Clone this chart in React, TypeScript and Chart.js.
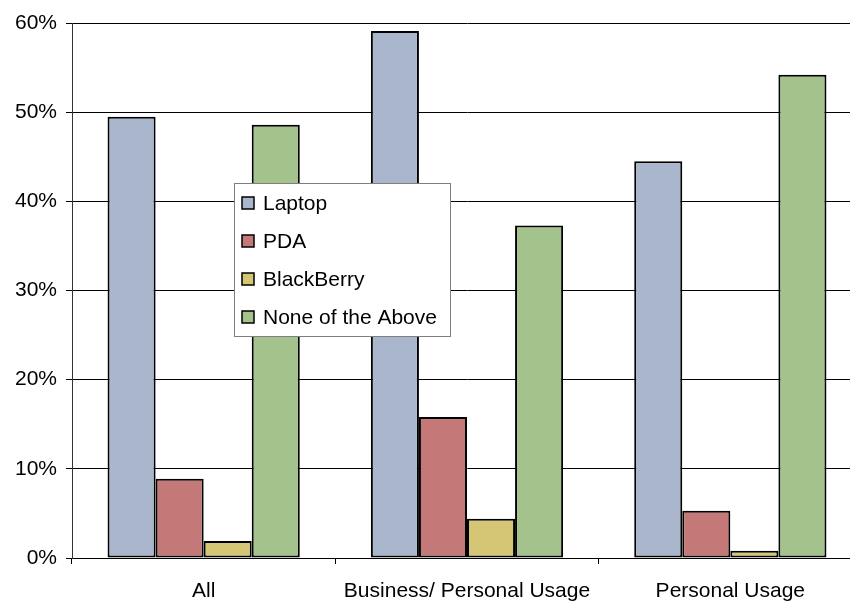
import React, { useEffect, useRef } from "react";
import { Chart, registerables } from "chart.js";

Chart.register(...registerables);

const categories = ["All", "Business/ Personal Usage", "Personal Usage"];
const seriesNames = ["Laptop", "PDA", "BlackBerry", "None of the Above"];
const laptop = [49.5, 59.1, 44.5];
const pda = [8.9, 15.8, 5.3];
const blackberry = [1.9, 4.4, 0.8];
const noneOfTheAbove = [48.6, 37.3, 54.2];
const yTicks = [0, 10, 20, 30, 40, 50, 60];

const colors = ["#A9B6CB", "#C47878", "#D4C674", "#A3C28C"];
const FONT = "'Liberation Sans', Arial, sans-serif";

const CANVAS_W = 880;
const CANVAS_H = 602;

// Legend box drawn inside the plot area, on top of bars and grid.
const insideLegend = {
  id: "insideLegend",
  afterDraw(chart: any) {
    const ctx = chart.ctx;
    const x = 234, y = 183, w = 216, h = 153;
    ctx.save();
    ctx.fillStyle = "#fff";
    ctx.fillRect(x, y, w, h);
    ctx.strokeStyle = "#7f7f7f";
    ctx.lineWidth = 1;
    ctx.strokeRect(x + 0.5, y + 0.5, w, h);
    ctx.font = `21px ${FONT}`;
    ctx.textBaseline = "middle";
    ctx.textAlign = "left";
    chart.data.datasets.forEach((ds: any, i: number) => {
      const cy = 203 + i * 38;
      ctx.fillStyle = ds.backgroundColor;
      ctx.fillRect(242, cy - 6, 12, 12);
      ctx.strokeStyle = "#000";
      ctx.lineWidth = 1.5;
      ctx.strokeRect(242, cy - 6, 12, 12);
      ctx.fillStyle = "#000";
      ctx.fillText(ds.label, 263, cy + 1);
    });
    ctx.restore();
  },
};

export default function App() {
  const ref = useRef<HTMLCanvasElement | null>(null);

  useEffect(() => {
    if (!ref.current) return;
    const values = [laptop, pda, blackberry, noneOfTheAbove];
    const chart = new Chart(ref.current, {
      type: "bar",
      data: {
        labels: categories,
        datasets: seriesNames.map((name, i) => ({
          label: name,
          data: values[i],
          backgroundColor: colors[i],
          borderColor: "#000",
          borderWidth: 2,
          borderSkipped: false,
          barPercentage: 1,
          categoryPercentage: 0.73,
        })),
      },
      options: {
        animation: false,
        responsive: false,
        devicePixelRatio: 1,
        layout: { padding: { top: 23, right: CANVAS_W - 862, left: 0, bottom: 0 } },
        plugins: {
          legend: { display: false },
          tooltip: { enabled: false },
        },
        scales: {
          x: {
            grid: {
              offset: true,
              drawOnChartArea: false,
              drawTicks: true,
              tickLength: 6,
              color: "#000",
            },
            border: { display: true, color: "#000", width: 1 },
            ticks: {
              color: "#000",
              font: { family: FONT, size: 21 },
              padding: 15,
              maxRotation: 0,
              autoSkip: false,
            },
            afterFit(scale: any) {
              scale.height = CANVAS_H - 558;
            },
          },
          y: {
            min: 0,
            max: 60,
            afterBuildTicks(scale: any) {
              scale.ticks = yTicks.map((v) => ({ value: v }));
            },
            grid: {
              color: "#000",
              lineWidth: 1,
              tickLength: 6,
            },
            border: { display: true, color: "#333", width: 1 },
            ticks: {
              color: "#000",
              font: { family: FONT, size: 21 },
              padding: 9,
              callback: (v: any) => `${v}%`,
            },
            afterFit(scale: any) {
              scale.width = 72;
            },
          },
        },
      },
      plugins: [insideLegend],
    });
    return () => chart.destroy();
  }, []);

  return (
    <div
      style={{
        position: "fixed",
        left: 0,
        top: 0,
        width: 850,
        height: 602,
        overflow: "hidden",
        background: "#fff",
      }}
    >
      <canvas
        ref={ref}
        width={CANVAS_W}
        height={CANVAS_H}
        style={{ width: CANVAS_W, height: CANVAS_H, display: "block" }}
      />
    </div>
  );
}
